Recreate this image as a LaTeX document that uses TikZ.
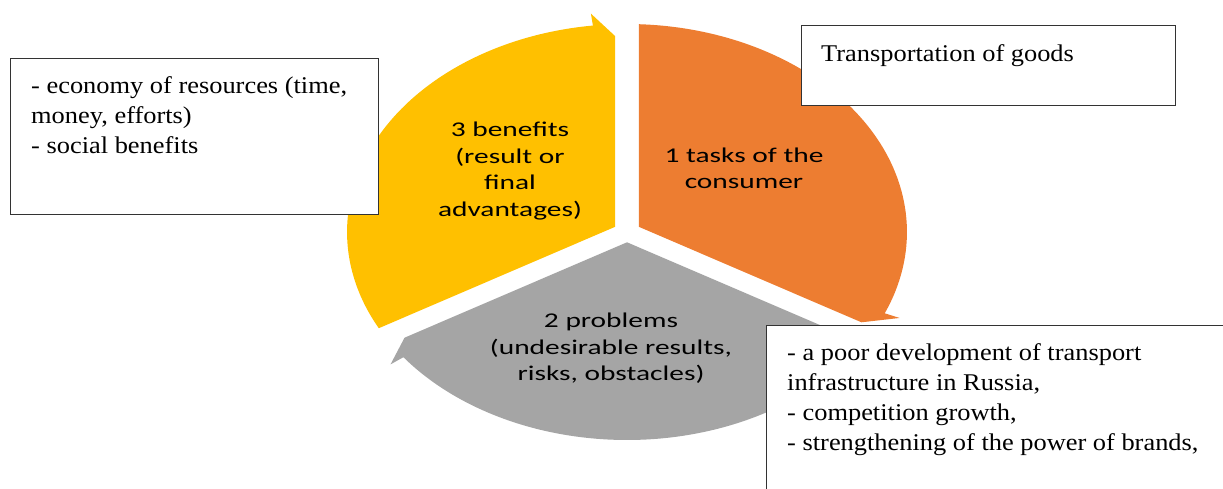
\documentclass[tikz,border=0pt]{standalone}
\usepackage{fontspec}
\usepackage{graphicx}
\setmainfont{Liberation Serif}
\newfontfamily\smartfont{Carlito}
\usetikzlibrary{calc}
\definecolor{cOrange}{HTML}{ED7D31}
\definecolor{cGray}{HTML}{A5A5A5}
\definecolor{cYellow}{HTML}{FFC000}
\newcommand\SegLabel[1]{\scalebox{1.4}[1]{\begin{tabular}{@{}c@{}}#1\end{tabular}}}
\newcommand\BoxText[1]{\scalebox{1.1}[1]{\begin{tabular}[t]{@{}l@{}}#1\end{tabular}}}
\begin{document}
\begin{tikzpicture}[x=1pt,y=-1pt,
  segtext/.style={inner sep=0pt, text=black, font=\smartfont\fontsize{21}{26.5}\selectfont},
  infobox/.style={draw=black!80, line width=1.3pt, fill=white, anchor=north west, inner sep=0pt},
  boxtext/.style={inner sep=0pt, anchor=base west, font=\fontsize{24}{30}\selectfont}]
\useasboundingbox (0,0) rectangle (1223,488);
\clip (0,0) rectangle (1223,488);
% cycle segments (circle stretched horizontally)
\begin{scope}[shift={(627,232)}, x=1.346pt, y=1pt]
  \fill[cOrange] (30:10.28) -- (87.55:208) arc[start angle=87.55, end angle=-23, radius=208]
     -- (-23:220) -- ($(-30:196)+(60:8.9)$) -- cycle;
  \fill[cGray] (-90:10.28) -- (327.55:208) arc[start angle=327.55, end angle=217, radius=208]
     -- (217:220) -- ($(210:196)+(300:8.9)$) -- cycle;
  \fill[cYellow] (150:10.28) -- (207.55:208) arc[start angle=207.55, end angle=97, radius=208]
     -- (97:220) -- ($(90:196)+(180:8.9)$) -- cycle;
\end{scope}
% segment labels
\node[segtext] (s1) at (744,170) {\SegLabel{1 tasks of the\\consumer}};
\node[segtext] (s2) at (611,349) {\SegLabel{2 problems\\(undesirable results,\\risks, obstacles)}};
\node[segtext] (s3) at (510,171) {\SegLabel{3 benefits\\(result or\\final\\advantages)}};
% text boxes
\node[infobox, minimum width=368pt, minimum height=156pt] (b1) at (10,58) {};
\node[boxtext] (t1) at ($(b1.north west)+(21,35)$) {\BoxText{- economy of resources (time,\\money, efforts)\\- social benefits}};
\node[infobox, minimum width=374pt, minimum height=80pt] (b2) at (801,25) {};
\node[boxtext] (t2) at ($(b2.north west)+(20,36)$) {\BoxText{Transportation of goods}};
\node[infobox, minimum width=480pt, minimum height=200pt] (b3) at (766,325) {};
\node[boxtext] (t3) at ($(b3.north west)+(21,35)$) {\BoxText{- a poor development of transport\\infrastructure in Russia,\\- competition growth,\\- strengthening of the power of brands,}};
\end{tikzpicture}
\end{document}
